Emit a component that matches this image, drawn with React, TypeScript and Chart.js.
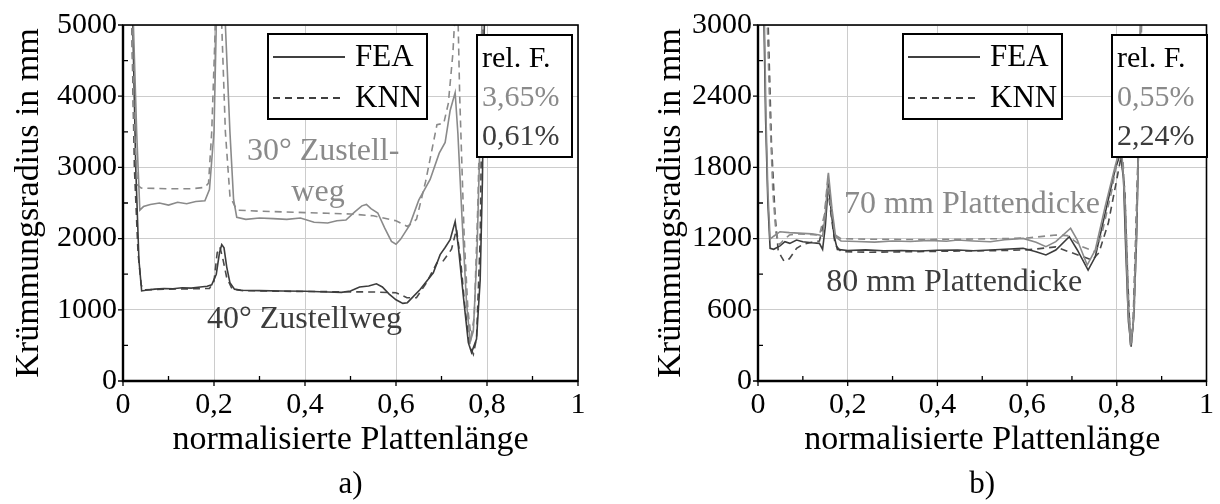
import React, { useEffect, useRef } from 'react';
import { Chart, registerables } from 'chart.js';
Chart.register(...registerables);

const FONT = "'Liberation Serif', 'Times New Roman', Times, serif";
const LIGHT = '#8a8a8a';
const DARK = '#3c3c3c';
const DARK_DASH = '#4a4a4a';

// ---------- Panel a) ----------
const xA30Fea = [0.005, 0.02, 0.03, 0.037, 0.045, 0.06, 0.08, 0.1, 0.12, 0.14, 0.16, 0.18, 0.19, 0.2, 0.205, 0.21, 0.218, 0.225, 0.235, 0.243, 0.25, 0.27, 0.3, 0.33, 0.36, 0.39, 0.42, 0.45, 0.47, 0.49, 0.51, 0.525, 0.535, 0.545, 0.56, 0.575, 0.59, 0.6, 0.61, 0.63, 0.65, 0.675, 0.695, 0.708, 0.719, 0.73, 0.736, 0.745, 0.755, 0.763, 0.77, 0.778, 0.785, 0.79, 0.8];
const yA30Fea = [9000, 5600, 3500, 2400, 2450, 2480, 2500, 2470, 2510, 2490, 2520, 2530, 2690, 3500, 5000, 6500, 7000, 5000, 3500, 2550, 2300, 2270, 2290, 2280, 2270, 2290, 2230, 2220, 2250, 2260, 2380, 2460, 2480, 2420, 2360, 2150, 1960, 1920, 1990, 2190, 2540, 2830, 3200, 3350, 3800, 4050, 3480, 2300, 1100, 550, 700, 1800, 3500, 5500, 9000];

const xA30Knn = [0.005, 0.018, 0.025, 0.032, 0.04, 0.1, 0.15, 0.18, 0.188, 0.195, 0.203, 0.21, 0.217, 0.225, 0.235, 0.25, 0.3, 0.35, 0.4, 0.45, 0.5, 0.55, 0.6, 0.625, 0.645, 0.665, 0.69, 0.705, 0.715, 0.725, 0.73, 0.735, 0.74, 0.75, 0.758, 0.765, 0.772, 0.78, 0.787, 0.795];
const yA30Knn = [9000, 5500, 3500, 2750, 2710, 2700, 2700, 2720, 2780, 3500, 5000, 6500, 5000, 3500, 2600, 2400, 2385, 2375, 2365, 2355, 2345, 2320, 2250, 2170, 2270, 2800, 3600, 3620, 3900, 4600, 5200, 5500, 4000, 2000, 1000, 620, 900, 2500, 4500, 7000];

const xA40Fea = [0.005, 0.02, 0.028, 0.035, 0.041, 0.05, 0.07, 0.09, 0.11, 0.13, 0.15, 0.17, 0.185, 0.195, 0.205, 0.212, 0.217, 0.222, 0.228, 0.235, 0.245, 0.26, 0.3, 0.35, 0.4, 0.45, 0.48, 0.5, 0.52, 0.54, 0.557, 0.57, 0.585, 0.6, 0.615, 0.625, 0.653, 0.682, 0.697, 0.708, 0.719, 0.73, 0.737, 0.748, 0.759, 0.766, 0.777, 0.785, 0.79, 0.795, 0.8];
const yA40Fea = [9000, 5500, 3000, 1700, 1265, 1275, 1290, 1300, 1295, 1310, 1305, 1320, 1330, 1350, 1500, 1800, 1915, 1870, 1600, 1380, 1290, 1275, 1270, 1265, 1260, 1250, 1245, 1265, 1320, 1335, 1365, 1320, 1220, 1140, 1090, 1100, 1285, 1520, 1775, 1875, 1985, 2240, 1890, 1190, 540, 400, 590, 1420, 2830, 5500, 9000];

const xA40Knn = [0.005, 0.018, 0.025, 0.033, 0.04, 0.045, 0.1, 0.15, 0.19, 0.2, 0.207, 0.213, 0.22, 0.228, 0.24, 0.26, 0.35, 0.45, 0.55, 0.6, 0.624, 0.645, 0.667, 0.69, 0.703, 0.722, 0.733, 0.742, 0.752, 0.762, 0.77, 0.777, 0.785, 0.792, 0.8];
const yA40Knn = [9000, 5500, 3000, 1800, 1350, 1280, 1290, 1295, 1300, 1400, 1800, 1880, 1700, 1450, 1290, 1270, 1260, 1255, 1250, 1240, 1170, 1170, 1380, 1660, 1680, 1850, 2130, 1700, 1000, 500, 375, 600, 2000, 5500, 9000];

const yTicksA = [0, 1000, 2000, 3000, 4000, 5000];

// ---------- Panel b) ----------
const xB70Fea = [0.005, 0.014, 0.018, 0.022, 0.027, 0.035, 0.049, 0.07, 0.1, 0.12, 0.137, 0.144, 0.15, 0.157, 0.165, 0.173, 0.185, 0.22, 0.26, 0.3, 0.34, 0.38, 0.42, 0.445, 0.48, 0.518, 0.55, 0.591, 0.62, 0.642, 0.664, 0.697, 0.712, 0.734, 0.752, 0.774, 0.796, 0.81, 0.818, 0.825, 0.831, 0.837, 0.843, 0.848, 0.853, 0.86];
const yB70Fea = [5000, 3100, 2200, 1600, 1195, 1220, 1258, 1250, 1244, 1240, 1230, 1220, 1400, 1755, 1450, 1216, 1180, 1175, 1170, 1180, 1175, 1185, 1178, 1188, 1180, 1174, 1190, 1202, 1170, 1132, 1174, 1287, 1188, 977, 1104, 1469, 1806, 2000, 1500, 600, 300, 500, 1200, 1900, 3100, 5000];

const xB70Knn = [0.01, 0.02, 0.027, 0.033, 0.04, 0.048, 0.055, 0.07, 0.09, 0.11, 0.137, 0.148, 0.155, 0.163, 0.172, 0.185, 0.25, 0.35, 0.45, 0.55, 0.6, 0.664, 0.69, 0.723, 0.752, 0.767, 0.789, 0.805, 0.812, 0.82, 0.827, 0.833, 0.839, 0.845, 0.85, 0.856, 0.865];
const yB70Knn = [5000, 3100, 2200, 1600, 1250, 1150, 1180, 1230, 1240, 1235, 1230, 1400, 1690, 1450, 1230, 1200, 1195, 1192, 1195, 1200, 1205, 1230, 1225, 1132, 1090, 1244, 1609, 1950, 2000, 1400, 600, 320, 600, 1400, 2200, 3100, 5000];

const xB80Fea = [0.005, 0.013, 0.017, 0.022, 0.027, 0.035, 0.049, 0.06, 0.071, 0.086, 0.1, 0.12, 0.137, 0.144, 0.15, 0.157, 0.164, 0.17, 0.177, 0.2, 0.24, 0.28, 0.32, 0.36, 0.4, 0.445, 0.48, 0.518, 0.55, 0.591, 0.62, 0.642, 0.664, 0.694, 0.712, 0.736, 0.752, 0.774, 0.796, 0.808, 0.815, 0.82, 0.826, 0.832, 0.838, 0.844, 0.848, 0.853, 0.86];
const yB80Fea = [5000, 3100, 2200, 1500, 1118, 1110, 1138, 1174, 1160, 1188, 1174, 1165, 1160, 1110, 1300, 1666, 1400, 1216, 1109, 1100, 1105, 1098, 1100, 1095, 1102, 1104, 1098, 1104, 1110, 1118, 1090, 1062, 1104, 1216, 1104, 935, 1047, 1413, 1778, 1920, 1700, 1100, 500, 289, 550, 1188, 1890, 3000, 5000];

const xB80Knn = [0.012, 0.022, 0.03, 0.038, 0.045, 0.052, 0.058, 0.07, 0.086, 0.1, 0.12, 0.137, 0.148, 0.155, 0.163, 0.172, 0.185, 0.25, 0.35, 0.45, 0.55, 0.6, 0.664, 0.7, 0.745, 0.76, 0.781, 0.8, 0.81, 0.818, 0.824, 0.83, 0.836, 0.842, 0.848, 0.855, 0.862];
const yB80Knn = [5000, 3100, 2000, 1400, 1100, 1048, 1010, 1030, 1118, 1150, 1170, 1180, 1350, 1650, 1400, 1150, 1090, 1085, 1090, 1095, 1100, 1105, 1130, 1080, 1020, 1080, 1329, 1700, 1900, 1600, 900, 350, 450, 1200, 2000, 3100, 5000];

const yTicksB = [0, 600, 1200, 1800, 2400, 3000];

const xTicks = [0, 0.2, 0.4, 0.6, 0.8, 1];

const legendLabels = ['FEA', 'KNN'];
const relTitle = 'rel. F.';
const relA = ['3,65%', '0,61%'];
const relB = ['0,55%', '2,24%'];

const yTitle = 'Krümmungsradius in mm';
const xTitle = 'normalisierte Plattenlänge';

function pts(xs: number[], ys: number[]) {
  return xs.map((x, i) => ({ x, y: ys[i] }));
}

function fmtX(v: number) {
  if (Math.abs(v) < 1e-9) return '0';
  if (Math.abs(v - 1) < 1e-9) return '1';
  return v.toFixed(1).replace('.', ',');
}

type Ann = { text: string; x: number; y: number; color: string; align: CanvasTextAlign };

type PanelCfg = {
  yMax: number;
  yStep: number;
  yTicks: number[];
  yWidth: number;
  padRight: number;
  yTitlePad: number;
  datasets: any[];
  anns: Ann[];
  rel: string[];
  caption: string;
};

function ds(data: { x: number; y: number }[], color: string, dashed: boolean, label: string) {
  return {
    label,
    data,
    borderColor: color,
    borderWidth: 1.6,
    borderDash: dashed ? [7, 5] : [],
    pointRadius: 0,
    tension: 0,
    fill: false,
  };
}

function makeDeco(cfg: PanelCfg) {
  return {
    id: 'deco',
    afterDatasetsDraw(chart: any) {
      const ctx: CanvasRenderingContext2D = chart.ctx;
      const { left, right, top, bottom } = chart.chartArea;
      const xs = chart.scales.x;
      const ys = chart.scales.y;
      ctx.save();
      // frame
      ctx.strokeStyle = '#000';
      ctx.setLineDash([]);
      ctx.lineWidth = 1.6;
      ctx.strokeRect(left, top, right - left, bottom - top);
      ctx.lineWidth = 2.4;
      ctx.beginPath();
      ctx.moveTo(left, top);
      ctx.lineTo(left, bottom);
      ctx.lineTo(right, bottom);
      ctx.stroke();
      // ticks
      ctx.lineWidth = 1.3;
      ctx.beginPath();
      for (let k = 0; k <= 10; k++) {
        const v = (cfg.yMax * k) / 10;
        const py = ys.getPixelForValue(v);
        if (k % 2 === 0) {
          ctx.moveTo(left - 5, py);
          ctx.lineTo(left, py);
        } else {
          ctx.moveTo(left, py);
          ctx.lineTo(left + 5, py);
        }
        const px = xs.getPixelForValue(k / 10);
        if (k % 2 === 0) {
          ctx.moveTo(px, bottom);
          ctx.lineTo(px, bottom + 5);
        } else {
          ctx.moveTo(px, bottom);
          ctx.lineTo(px, bottom - 5);
        }
      }
      ctx.stroke();
      // annotations
      ctx.textBaseline = 'middle';
      ctx.font = `32px ${FONT}`;
      for (const a of cfg.anns) {
        ctx.fillStyle = a.color;
        ctx.textAlign = a.align;
        ctx.fillText(a.text, xs.getPixelForValue(a.x), ys.getPixelForValue(a.y));
      }
      // legend box
      const lx = left + 145;
      const ly = top + 9;
      ctx.fillStyle = '#fff';
      ctx.fillRect(lx, ly, 159, 85);
      ctx.strokeStyle = '#000';
      ctx.lineWidth = 2;
      ctx.strokeRect(lx, ly, 159, 85);
      ctx.lineWidth = 1.6;
      ctx.beginPath();
      ctx.moveTo(lx + 5, ly + 23);
      ctx.lineTo(lx + 77, ly + 23);
      ctx.stroke();
      ctx.setLineDash([7, 5]);
      ctx.beginPath();
      ctx.moveTo(lx + 5, ly + 64);
      ctx.lineTo(lx + 77, ly + 64);
      ctx.stroke();
      ctx.setLineDash([]);
      ctx.fillStyle = '#000';
      ctx.textAlign = 'left';
      ctx.font = `31px ${FONT}`;
      ctx.fillText(legendLabels[0], lx + 87, ly + 24);
      ctx.fillText(legendLabels[1], lx + 87, ly + 65);
      // rel box
      const rx = left + 354;
      const ry = top + 10;
      ctx.fillStyle = '#fff';
      ctx.fillRect(rx, ry, 95, 122);
      ctx.lineWidth = 2;
      ctx.strokeRect(rx, ry, 95, 122);
      ctx.font = `30px ${FONT}`;
      ctx.fillStyle = '#000';
      ctx.fillText(relTitle, rx + 5, ry + 24);
      ctx.fillStyle = LIGHT;
      ctx.fillText(cfg.rel[0], rx + 5, ry + 63);
      ctx.fillStyle = DARK;
      ctx.fillText(cfg.rel[1], rx + 5, ry + 102);
      // caption
      ctx.fillStyle = '#000';
      ctx.textAlign = 'center';
      ctx.font = `31px ${FONT}`;
      ctx.fillText(cfg.caption, (left + right) / 2, 485);
      ctx.restore();
    },
  };
}

function Panel({ cfg, style }: { cfg: PanelCfg; style: React.CSSProperties }) {
  const ref = useRef<HTMLCanvasElement>(null);
  useEffect(() => {
    if (!ref.current) return;
    const chart = new Chart(ref.current, {
      type: 'line',
      data: { datasets: cfg.datasets },
      options: {
        responsive: false,
        animation: false,
        layout: { padding: { top: 25, right: cfg.padRight, left: 0, bottom: 0 } },
        plugins: { legend: { display: false }, title: { display: false }, tooltip: { enabled: false } },
        scales: {
          x: {
            type: 'linear',
            min: 0,
            max: 1,
            afterBuildTicks: (s: any) => {
              s.ticks = xTicks.map((v) => ({ value: v }));
            },
            afterFit: (s: any) => {
              s.height = 123;
            },
            ticks: {
              callback: (v: any) => fmtX(Number(v)),
              font: { family: FONT, size: 30 },
              color: '#000',
              padding: 6,
              maxRotation: 0,
            },
            grid: { color: '#cccccc', lineWidth: 1, drawTicks: false },
            border: { display: false },
            title: {
              display: true,
              text: xTitle,
              font: { family: FONT, size: 34 },
              color: '#000',
              padding: { top: 0, bottom: 44 },
            },
          },
          y: {
            type: 'linear',
            min: 0,
            max: cfg.yMax,
            afterBuildTicks: (s: any) => {
              s.ticks = cfg.yTicks.map((v) => ({ value: v }));
            },
            afterFit: (s: any) => {
              s.width = cfg.yWidth;
            },
            ticks: {
              font: { family: FONT, size: 30 },
              color: '#000',
              padding: 6,
              callback: (v: any) => String(v),
            },
            grid: { color: '#cccccc', lineWidth: 1, drawTicks: false },
            border: { display: false },
            title: {
              display: true,
              text: yTitle,
              font: { family: FONT, size: 34 },
              color: '#000',
              padding: { top: cfg.yTitlePad, bottom: 0 },
            },
          },
        },
      },
      plugins: [makeDeco(cfg)],
    });
    return () => chart.destroy();
  }, [cfg]);
  return <canvas ref={ref} width={610} height={504} style={style} />;
}

const cfgA: PanelCfg = {
  yMax: 5000,
  yStep: 1000,
  yTicks: yTicksA,
  yWidth: 123,
  padRight: 32,
  yTitlePad: 9,
  datasets: [
    ds(pts(xA30Fea, yA30Fea), LIGHT, false, '30° FEA'),
    ds(pts(xA30Knn, yA30Knn), LIGHT, true, '30° KNN'),
    ds(pts(xA40Fea, yA40Fea), DARK, false, '40° FEA'),
    ds(pts(xA40Knn, yA40Knn), DARK_DASH, true, '40° KNN'),
  ],
  anns: [
    { text: '30° Zustell-', x: 0.2725, y: 3219, color: LIGHT, align: 'left' },
    { text: 'weg', x: 0.4286, y: 2645, color: LIGHT, align: 'center' },
    { text: '40° Zustellweg', x: 0.1846, y: 865, color: DARK, align: 'left' },
  ],
  rel: relA,
  caption: 'a)',
};

const cfgB: PanelCfg = {
  yMax: 3000,
  yStep: 600,
  yTicks: yTicksB,
  yWidth: 148,
  padRight: 7,
  yTitlePad: 41,
  datasets: [
    ds(pts(xB70Fea, yB70Fea), LIGHT, false, '70 mm FEA'),
    ds(pts(xB70Knn, yB70Knn), LIGHT, true, '70 mm KNN'),
    ds(pts(xB80Fea, yB80Fea), DARK, false, '80 mm FEA'),
    ds(pts(xB80Knn, yB80Knn), DARK_DASH, true, '80 mm KNN'),
  ],
  anns: [
    { text: '70 mm Plattendicke', x: 0.192, y: 1483, color: LIGHT, align: 'left' },
    { text: '80 mm Plattendicke', x: 0.152, y: 826, color: DARK, align: 'left' },
  ],
  rel: relB,
  caption: 'b)',
};

export default function App() {
  return (
    <div style={{ position: 'fixed', left: 0, top: 0, width: 1220, height: 504, background: '#fff' }}>
      <Panel cfg={cfgA} style={{ position: 'absolute', left: 0, top: 0 }} />
      <Panel cfg={cfgB} style={{ position: 'absolute', left: 610, top: 0 }} />
    </div>
  );
}
